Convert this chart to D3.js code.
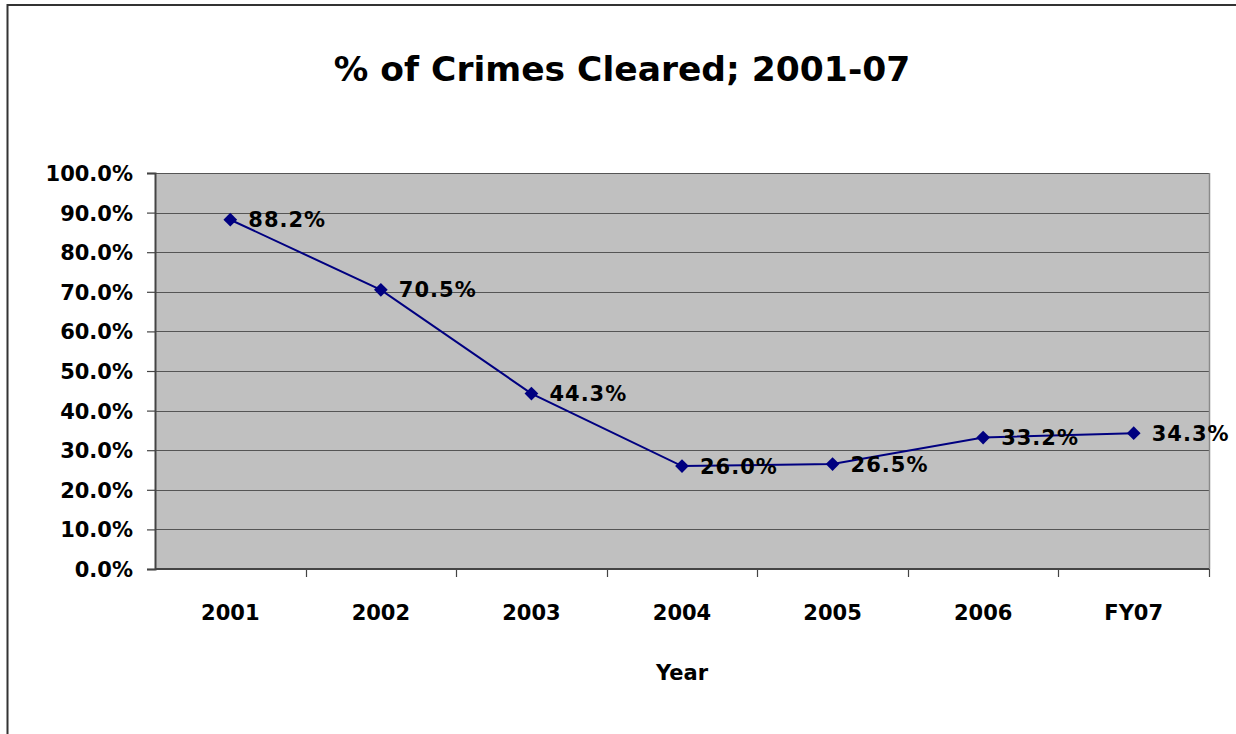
<!DOCTYPE html>
<html><head><meta charset="utf-8">
<script src="https://cdn.jsdelivr.net/npm/d3@7"></script>
<style>
html,body{margin:0;padding:0;background:#fff;}
svg{display:block;}
text{font-family:"DejaVu Sans",Verdana,sans-serif;font-weight:bold;fill:#000;}
</style></head>
<body>
<script>
const categories = ["2001","2002","2003","2004","2005","2006","FY07"];
const values = [88.2, 70.5, 44.3, 26.0, 26.5, 33.2, 34.3];
const yTicks = [0,10,20,30,40,50,60,70,80,90,100];
const titleText = "% of Crimes Cleared; 2001-07";
const xTitle = "Year";

const W = 1236, H = 734;
const svg = d3.select("body").append("svg").attr("width", W).attr("height", H);

// outer border
svg.append("rect").attr("x",7.5).attr("y",5).attr("width",1240).attr("height",740)
  .attr("fill","#fff").attr("stroke","#333").attr("stroke-width",2);

const L = 155, R = 1209, T = 173, B = 569;

const x = d3.scaleBand().domain(categories).range([L, R]).padding(0);
const y = d3.scaleLinear().domain([0,100]).range([B, T]);

// plot background
svg.append("rect").attr("x",L).attr("y",T).attr("width",R-L).attr("height",B-T).attr("fill","#c0c0c0");

// gridlines
svg.append("g").selectAll("line").data(yTicks.filter(d=>d>0)).join("line")
  .attr("x1",L).attr("x2",R).attr("y1",d=>Math.round(y(d))+0.5).attr("y2",d=>Math.round(y(d))+0.5)
  .attr("stroke","#555").attr("stroke-width",1);

// right edge
svg.append("line").attr("x1",R+0.5).attr("x2",R+0.5).attr("y1",T).attr("y2",B).attr("stroke","#8a8a8a").attr("stroke-width",1.5);

// y axis
const yAxis = d3.axisLeft(y).tickValues(yTicks).tickSize(8).tickPadding(14)
  .tickFormat(d=>d3.format(".1f")(d)+"%");
const gy = svg.append("g").attr("transform",`translate(${L},0)`).call(yAxis);
gy.attr("font-size",null).attr("font-family",null);
gy.select(".domain").attr("stroke","#444").attr("stroke-width",2);
gy.selectAll(".tick line").attr("stroke","#444").attr("stroke-width",1.2);
gy.selectAll(".tick text").style("font-size","21px").attr("dy","0.36em");

// x axis ticks at category boundaries
const boundaries = categories.map(c=>x(c)).concat([R]);
svg.append("g").selectAll("line").data(boundaries.slice(1)).join("line")
  .attr("x1",d=>Math.round(d)+0.5).attr("x2",d=>Math.round(d)+0.5).attr("y1",B).attr("y2",B+8)
  .attr("stroke","#444").attr("stroke-width",1.2);
svg.append("line").attr("x1",L).attr("x2",R).attr("y1",B).attr("y2",B).attr("stroke","#444").attr("stroke-width",2);

svg.append("g").selectAll("text").data(categories).join("text")
  .attr("x",d=>x(d)+x.bandwidth()/2).attr("y",612).attr("dy","0.36em")
  .attr("text-anchor","middle").style("font-size","21px").text(d=>d);

// line
const cx = (d,i)=>x(categories[i])+x.bandwidth()/2;
const line = d3.line().x((d,i)=>cx(d,i)).y(d=>y(d));
svg.append("path").datum(values).attr("d",line).attr("fill","none").attr("stroke","#000080").attr("stroke-width",2);

// markers
svg.append("g").selectAll("path").data(values).join("path")
  .attr("transform",(d,i)=>`translate(${cx(d,i)},${y(d)})`)
  .attr("d", d3.symbol(d3.symbolDiamond2 || d3.symbolDiamond, 120)())
  .attr("fill","#000080");
// labels
svg.append("g").selectAll("text").data(values).join("text")
  .attr("x",(d,i)=>cx(d,i)+18).attr("y",d=>y(d)).attr("dy","0.36em")
  .style("font-size","21px").attr("letter-spacing","1px").text(d=>d3.format(".1f")(d)+"%");

// title
svg.append("text").attr("x",622).attr("y",69).attr("dy","0.36em").attr("text-anchor","middle")
  .style("font-size","34.5px").text(titleText);

svg.append("text").attr("x",682).attr("y",672).attr("dy","0.36em").attr("text-anchor","middle")
  .style("font-size","21px").text(xTitle);
</script>
</body></html>
